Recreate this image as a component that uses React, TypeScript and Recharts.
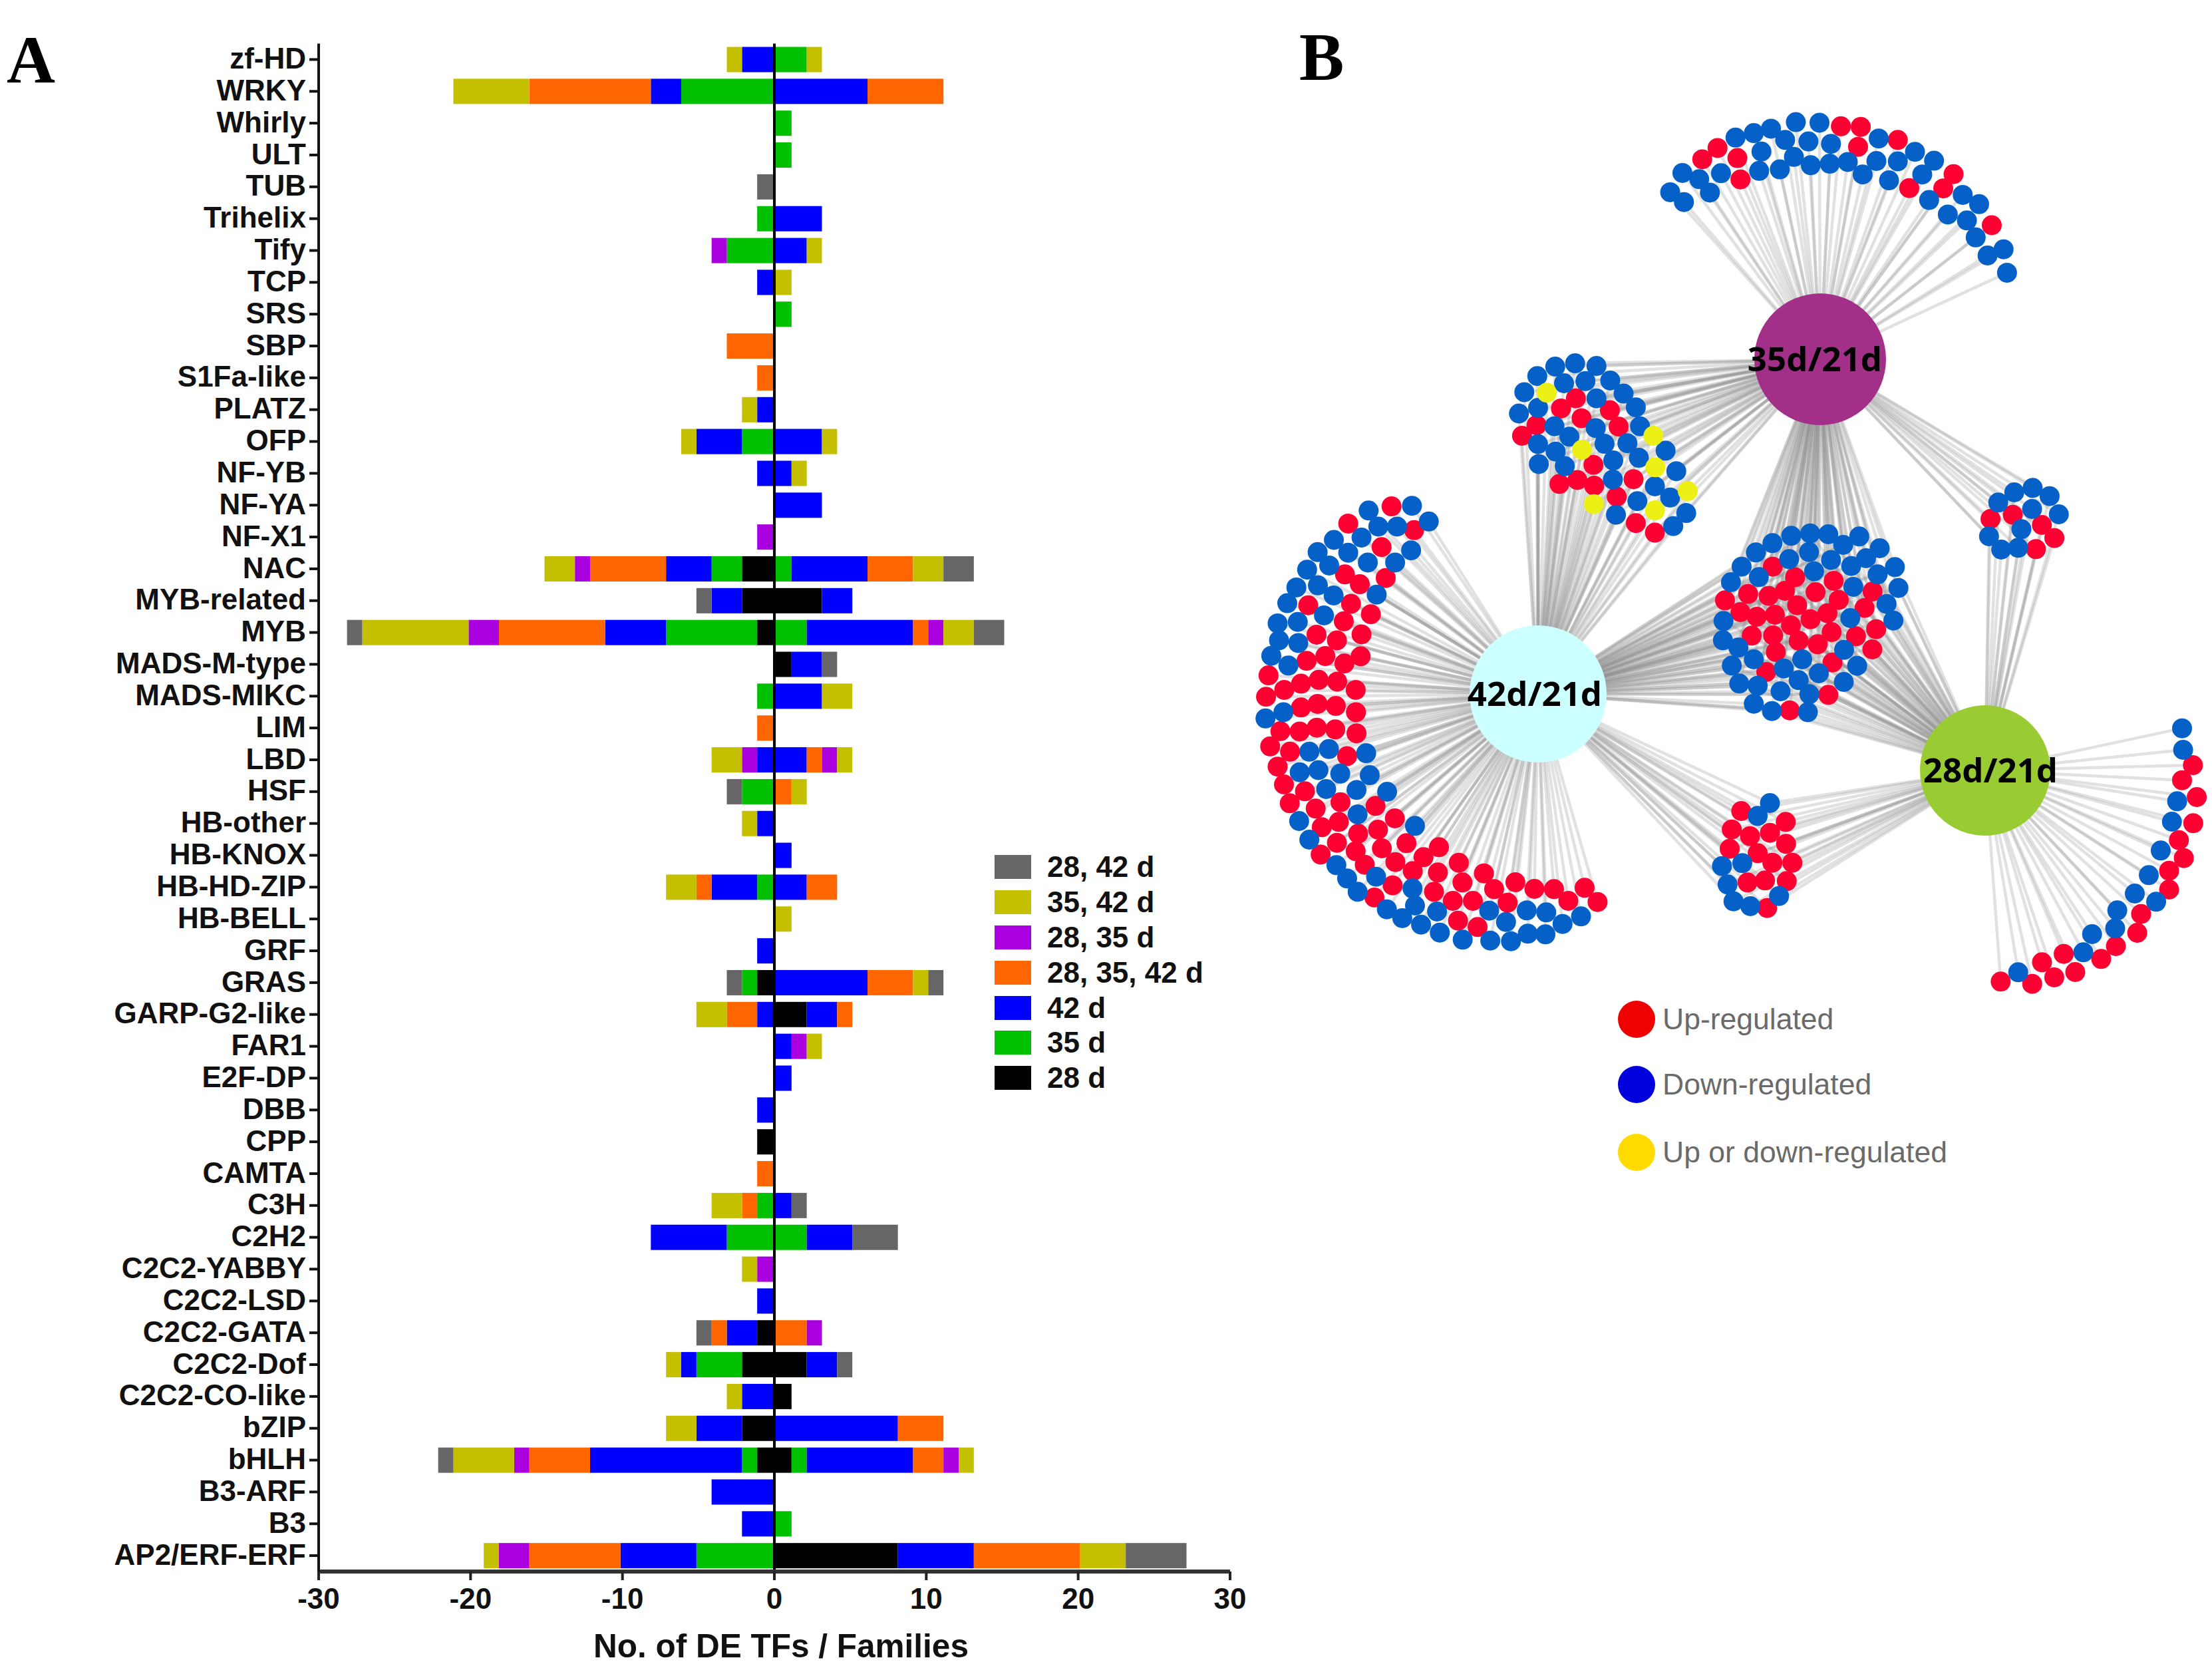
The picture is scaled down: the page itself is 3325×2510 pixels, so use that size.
import {
  BarChart,
  Bar,
  XAxis,
  YAxis,
  ScatterChart,
  Scatter,
  ReferenceLine,
  Legend,
} from "recharts";

const categories = [
  "zf-HD", "WRKY", "Whirly", "ULT", "TUB", "Trihelix", "Tify", "TCP",
  "SRS", "SBP", "S1Fa-like", "PLATZ", "OFP", "NF-YB", "NF-YA", "NF-X1",
  "NAC", "MYB-related", "MYB", "MADS-M-type", "MADS-MIKC", "LIM", "LBD", "HSF",
  "HB-other", "HB-KNOX", "HB-HD-ZIP", "HB-BELL", "GRF", "GRAS", "GARP-G2-like", "FAR1",
  "E2F-DP", "DBB", "CPP", "CAMTA", "C3H", "C2H2", "C2C2-YABBY", "C2C2-LSD",
  "C2C2-GATA", "C2C2-Dof", "C2C2-CO-like", "bZIP", "bHLH", "B3-ARF", "B3", "AP2/ERF-ERF",
];

// counts left of zero (stored as magnitudes)
const left28 = [
  0, 0, 0, 0, 0, 0, 0, 0,
  0, 0, 0, 0, 0, 0, 0, 0,
  2, 2, 1, 0, 0, 0, 0, 0,
  0, 0, 0, 0, 0, 1, 0, 0,
  0, 0, 1, 0, 0, 0, 0, 0,
  1, 2, 0, 2, 1, 0, 0, 0,
];
const left35 = [
  0, 6, 0, 0, 0, 1, 3, 0,
  0, 0, 0, 0, 2, 0, 0, 0,
  2, 0, 6, 0, 1, 0, 0, 2,
  0, 0, 1, 0, 0, 1, 0, 0,
  0, 0, 0, 0, 1, 3, 0, 0,
  0, 3, 0, 0, 1, 0, 0, 5,
];
const left42 = [
  2, 2, 0, 0, 0, 0, 0, 1,
  0, 0, 0, 1, 3, 1, 0, 0,
  3, 2, 4, 0, 0, 0, 1, 0,
  1, 0, 3, 0, 1, 0, 1, 0,
  0, 1, 0, 0, 0, 5, 0, 1,
  2, 1, 2, 3, 10, 4, 2, 5,
];
const left283542 = [
  0, 8, 0, 0, 0, 0, 0, 0,
  0, 3, 1, 0, 0, 0, 0, 0,
  5, 0, 7, 0, 0, 1, 0, 0,
  0, 0, 1, 0, 0, 0, 2, 0,
  0, 0, 0, 1, 1, 0, 0, 0,
  1, 0, 0, 0, 4, 0, 0, 6,
];
const left2835 = [
  0, 0, 0, 0, 0, 0, 1, 0,
  0, 0, 0, 0, 0, 0, 0, 1,
  1, 0, 2, 0, 0, 0, 1, 0,
  0, 0, 0, 0, 0, 0, 0, 0,
  0, 0, 0, 0, 0, 0, 1, 0,
  0, 0, 0, 0, 1, 0, 0, 2,
];
const left3542 = [
  1, 5, 0, 0, 0, 0, 0, 0,
  0, 0, 0, 1, 1, 0, 0, 0,
  2, 0, 7, 0, 0, 0, 2, 0,
  1, 0, 2, 0, 0, 0, 2, 0,
  0, 0, 0, 0, 2, 0, 1, 0,
  0, 1, 1, 2, 4, 0, 0, 1,
];
const left2842 = [
  0, 0, 0, 0, 1, 0, 0, 0,
  0, 0, 0, 0, 0, 0, 0, 0,
  0, 1, 1, 0, 0, 0, 0, 1,
  0, 0, 0, 0, 0, 1, 0, 0,
  0, 0, 0, 0, 0, 0, 0, 0,
  1, 0, 0, 0, 1, 0, 0, 0,
];

// counts right of zero
const right28 = [
  0, 0, 0, 0, 0, 0, 0, 0,
  0, 0, 0, 0, 0, 0, 0, 0,
  0, 3, 0, 1, 0, 0, 0, 0,
  0, 0, 0, 0, 0, 0, 2, 0,
  0, 0, 0, 0, 0, 0, 0, 0,
  0, 2, 1, 0, 1, 0, 0, 8,
];
const right35 = [
  2, 0, 1, 1, 0, 0, 0, 0,
  1, 0, 0, 0, 0, 0, 0, 0,
  1, 0, 2, 0, 0, 0, 0, 0,
  0, 0, 0, 0, 0, 0, 0, 0,
  0, 0, 0, 0, 0, 2, 0, 0,
  0, 0, 0, 0, 1, 0, 1, 0,
];
const right42 = [
  0, 6, 0, 0, 0, 3, 2, 0,
  0, 0, 0, 0, 3, 1, 3, 0,
  5, 2, 7, 2, 3, 0, 2, 0,
  0, 1, 2, 0, 0, 6, 2, 1,
  1, 0, 0, 0, 1, 3, 0, 0,
  0, 2, 0, 8, 7, 0, 0, 5,
];
const right283542 = [
  0, 5, 0, 0, 0, 0, 0, 0,
  0, 0, 0, 0, 0, 0, 0, 0,
  3, 0, 1, 0, 0, 0, 1, 1,
  0, 0, 2, 0, 0, 3, 1, 0,
  0, 0, 0, 0, 0, 0, 0, 0,
  2, 0, 0, 3, 2, 0, 0, 7,
];
const right2835 = [
  0, 0, 0, 0, 0, 0, 0, 0,
  0, 0, 0, 0, 0, 0, 0, 0,
  0, 0, 1, 0, 0, 0, 1, 0,
  0, 0, 0, 0, 0, 0, 0, 1,
  0, 0, 0, 0, 0, 0, 0, 0,
  1, 0, 0, 0, 1, 0, 0, 0,
];
const right3542 = [
  1, 0, 0, 0, 0, 0, 1, 1,
  0, 0, 0, 0, 1, 1, 0, 0,
  2, 0, 2, 0, 2, 0, 1, 1,
  0, 0, 0, 1, 0, 1, 0, 1,
  0, 0, 0, 0, 0, 0, 0, 0,
  0, 0, 0, 0, 1, 0, 0, 3,
];
const right2842 = [
  0, 0, 0, 0, 0, 0, 0, 0,
  0, 0, 0, 0, 0, 0, 0, 0,
  2, 0, 2, 1, 0, 0, 0, 0,
  0, 0, 0, 0, 0, 1, 0, 0,
  0, 0, 0, 0, 1, 3, 0, 0,
  0, 1, 0, 0, 0, 0, 0, 4,
];

const xTicks = [-30, -20, -10, 0, 10, 20, 30];

const series = [
  { key: "d28", label: "28 d", color: "#000000", left: left28, right: right28 },
  { key: "d35", label: "35 d", color: "#00c000", left: left35, right: right35 },
  { key: "d42", label: "42 d", color: "#0000ff", left: left42, right: right42 },
  { key: "d283542", label: "28, 35, 42 d", color: "#ff6600", left: left283542, right: right283542 },
  { key: "d2835", label: "28, 35 d", color: "#aa00e0", left: left2835, right: right2835 },
  { key: "d3542", label: "35, 42 d", color: "#c4c000", left: left3542, right: right3542 },
  { key: "d2842", label: "28, 42 d", color: "#666666", left: left2842, right: right2842 },
];

const barData = categories.map((name, i) => {
  const row: Record<string, number | string> = { name };
  series.forEach((s) => {
    row[s.key + "L"] = -s.left[i];
    row[s.key + "R"] = s.right[i];
  });
  return row;
});

const D = "down";
const U = "up";
const M = "either";
type Reading = [string, number, number];
type Node = { x: number; y: number; kind: string };

const fromCrop = (ox: number, oy: number, kx: number, ky: number, rows: Reading[]): Node[] =>
  rows.map(([kind, x, y]) => ({ kind, x: ox + x / kx, y: oy + y / ky }));

const hub35 = { x: 2736, y: 540, name: "35d/21d", color: "#a23088", r: 99, dx: -8 };
const hub42 = { x: 2312, y: 1043, name: "42d/21d", color: "#ccffff", r: 103, dx: -5 };
const hub28 = { x: 2984, y: 1158, name: "28d/21d", color: "#99cc33", r: 98, dx: 8 };
const hubs = [hub35, hub42, hub28];

const topArc = fromCrop(2200, 130, 1.742, 2.24, [
  [D, 870, 120], [D, 932, 122], [U, 988, 134], [U, 1040, 136], [D, 1087, 175], [U, 1137, 180],
  [D, 1182, 220], [D, 1232, 250], [U, 1283, 295], [D, 805, 142], [D, 760, 157], [D, 712, 172],
  [U, 665, 207], [U, 625, 245], [D, 573, 291], [D, 541, 356], [D, 577, 389], [D, 617, 312],
  [D, 645, 357], [D, 674, 292], [U, 717, 241], [U, 725, 313], [D, 780, 219], [D, 842, 180],
  [D, 903, 185], [D, 962, 193], [U, 1033, 203], [D, 865, 237], [D, 909, 265], [D, 959, 260],
  [D, 1006, 254], [D, 1081, 251], [D, 1137, 252], [D, 774, 284], [D, 828, 279], [D, 1045, 296],
  [D, 1114, 316], [D, 1201, 296], [U, 1167, 342], [U, 1256, 343], [D, 1219, 382], [D, 1307, 365],
  [D, 1350, 396], [D, 1268, 431], [D, 1318, 451], [U, 1383, 467], [D, 1341, 508], [D, 1372, 569],
  [D, 1414, 548], [D, 1423, 627],
]);

const upperLeft = fromCrop(2200, 130, 1.742, 2.24, [
  [D, 348, 941], [D, 292, 932], [D, 240, 943], [D, 193, 975], [D, 159, 1029], [M, 218, 1031],
  [D, 263, 999], [D, 319, 992], [D, 384, 990], [D, 419, 1034], [D, 348, 1050], [U, 294, 1050],
  [U, 255, 1084], [D, 195, 1082], [D, 145, 1101], [U, 383, 1090], [D, 451, 1080], [U, 309, 1117],
  [U, 191, 1140], [D, 238, 1144], [U, 153, 1176], [D, 346, 1150], [U, 406, 1145], [D, 462, 1144],
  [M, 497, 1176], [D, 277, 1179], [D, 195, 1204], [D, 241, 1229], [D, 369, 1203], [D, 429, 1201],
  [M, 310, 1223], [D, 529, 1226], [D, 459, 1250], [D, 197, 1271], [D, 265, 1278], [U, 340, 1274],
  [D, 392, 1259], [M, 502, 1282], [D, 557, 1295], [U, 251, 1338], [U, 298, 1325], [U, 342, 1344],
  [D, 391, 1323], [U, 445, 1322], [D, 501, 1346], [M, 587, 1362], [U, 401, 1381], [D, 455, 1396],
  [D, 541, 1384], [M, 341, 1406], [M, 501, 1427], [D, 399, 1442], [D, 583, 1436], [U, 451, 1470],
  [D, 549, 1480], [U, 501, 1502],
]);

const upperRight = fromCrop(2480, 700, 2.24, 3, [
  [D, 1289, 100], [D, 1227, 120], [D, 1346, 137], [D, 1173, 166], [D, 1287, 195], [U, 1222, 221],
  [D, 1377, 219], [U, 1147, 240], [U, 1320, 267], [D, 1251, 286], [D, 1142, 318], [U, 1362, 326],
  [D, 1183, 378], [D, 1240, 370], [U, 1300, 376],
]);

const center = fromCrop(2480, 700, 2.24, 3, [
  [D, 540, 305], [D, 476, 316], [D, 601, 309], [D, 705, 319], [D, 413, 349], [D, 651, 357],
  [D, 536, 389], [D, 774, 372], [D, 357, 391], [D, 469, 421], [D, 610, 425], [D, 728, 417],
  [D, 309, 455], [U, 414, 455], [D, 678, 452], [D, 825, 457], [D, 553, 476], [U, 489, 503],
  [D, 367, 502], [D, 767, 490], [D, 273, 525], [U, 619, 519], [D, 685, 546], [D, 837, 551],
  [U, 331, 578], [U, 400, 587], [U, 455, 564], [U, 558, 570], [U, 750, 567], [U, 253, 607],
  [U, 636, 605], [U, 496, 629], [U, 723, 641], [D, 797, 623], [U, 305, 660], [U, 360, 681],
  [U, 421, 672], [U, 598, 665], [D, 248, 700], [U, 541, 692], [D, 675, 687], [D, 820, 698],
  [U, 475, 720], [U, 612, 750], [U, 762, 737], [U, 343, 766], [U, 415, 765], [U, 694, 769],
  [D, 246, 787], [U, 501, 789], [U, 565, 805], [D, 298, 820], [U, 424, 840], [D, 654, 830],
  [U, 749, 828], [D, 350, 873], [D, 513, 873], [U, 615, 887], [D, 276, 901], [D, 698, 902],
  [D, 451, 914], [U, 392, 930], [D, 569, 936], [D, 301, 982], [D, 501, 967], [D, 653, 975],
  [D, 363, 992], [D, 440, 1017], [D, 537, 1030], [U, 601, 1033], [D, 350, 1073], [D, 411, 1106],
  [U, 471, 1103], [D, 532, 1111],
]);

const bigArcUpper = fromCrop(1850, 720, 2.412, 2.24, [
  [D, 500, 106], [U, 583, 92], [D, 657, 90], [D, 718, 143], [U, 426, 150], [D, 535, 160],
  [D, 603, 160], [U, 665, 172], [D, 374, 205], [D, 474, 197], [U, 547, 229], [D, 315, 246],
  [D, 426, 248], [D, 654, 240], [D, 277, 305], [D, 357, 291], [D, 497, 281], [D, 596, 281],
  [U, 414, 321], [U, 562, 333], [U, 468, 354], [D, 238, 365], [D, 316, 358], [D, 373, 392],
  [D, 529, 389], [D, 205, 418], [U, 281, 425], [U, 436, 420], [D, 338, 459], [U, 508, 455],
  [D, 170, 486], [D, 243, 481], [U, 410, 479], [U, 474, 523], [D, 175, 543], [D, 245, 552],
  [U, 311, 524], [U, 385, 543], [D, 147, 595], [D, 209, 628], [U, 275, 612], [U, 343, 596],
  [U, 412, 621], [U, 471, 597], [U, 137, 661], [U, 255, 689], [U, 319, 676], [U, 386, 682],
  [U, 194, 710], [U, 128, 733], [U, 453, 710], [U, 255, 769], [U, 315, 757], [U, 381, 764],
  [D, 191, 785], [D, 126, 806], [U, 454, 785], [U, 180, 849], [U, 250, 850], [U, 312, 837],
  [U, 379, 843], [U, 456, 856], [U, 143, 900], [U, 215, 918], [D, 285, 918], [D, 356, 909],
  [U, 422, 933], [D, 491, 923], [U, 170, 968], [D, 250, 987], [D, 318, 980], [D, 397, 992],
  [D, 504, 997],
]);

const bigArcLower = fromCrop(1850, 1000, 2.412, 3, [
  [U, 193, 537], [U, 269, 568], [D, 346, 558], [D, 456, 562], [D, 567, 570], [U, 214, 622],
  [U, 308, 646], [U, 398, 617], [U, 525, 634], [D, 248, 702], [D, 460, 672], [U, 595, 690],
  [U, 330, 730], [U, 392, 706], [D, 668, 724], [U, 462, 759], [U, 534, 741], [D, 285, 786],
  [U, 385, 800], [U, 637, 802], [U, 755, 820], [U, 326, 853], [U, 453, 838], [U, 548, 825],
  [U, 699, 865], [U, 597, 887], [U, 827, 890], [D, 383, 901], [U, 486, 899], [U, 660, 928],
  [U, 751, 934], [U, 918, 938], [D, 422, 961], [D, 527, 953], [U, 840, 979], [U, 587, 992],
  [D, 659, 1006], [U, 1032, 978], [U, 955, 1009], [U, 1101, 1008], [U, 1172, 1009], [U, 1283, 1003],
  [D, 460, 1021], [U, 737, 1021], [U, 521, 1047], [U, 805, 1062], [U, 878, 1062], [U, 1004, 1070],
  [U, 1224, 1062], [U, 1330, 1067], [D, 566, 1100], [D, 668, 1083], [D, 748, 1110], [D, 937, 1106],
  [D, 1073, 1105], [D, 1144, 1114], [D, 622, 1140], [D, 690, 1169], [U, 824, 1151], [D, 998, 1157],
  [D, 1203, 1166], [D, 1270, 1132], [U, 895, 1180], [D, 758, 1205], [D, 1077, 1210], [D, 1141, 1213],
  [D, 841, 1237], [D, 941, 1241], [D, 1016, 1244],
]);

const lowerSmall = fromCrop(2500, 1050, 1.9, 3, [
  [D, 305, 471], [U, 223, 507], [D, 270, 529], [U, 350, 556], [U, 196, 590], [U, 305, 605],
  [U, 248, 620], [U, 351, 655], [U, 190, 677], [U, 270, 697], [D, 168, 755], [D, 226, 742],
  [U, 312, 740], [U, 369, 740], [D, 184, 838], [U, 241, 829], [U, 291, 820], [U, 353, 823],
  [D, 331, 890], [D, 201, 914], [D, 249, 936], [U, 297, 944],
]);

const rightArc = fromCrop(2500, 1050, 1.9, 3, [
  [D, 1482, 134], [D, 1485, 231], [U, 1513, 300], [U, 1482, 368], [D, 1468, 463], [U, 1524, 444],
  [D, 1453, 555], [U, 1514, 562], [U, 1473, 638], [D, 1421, 685], [U, 1487, 719], [D, 1387, 796],
  [U, 1445, 776], [U, 1445, 861], [D, 1347, 879], [D, 1408, 916], [D, 1297, 955], [U, 1365, 971],
  [D, 1291, 1036], [U, 1354, 1056], [D, 1225, 1062], [U, 1293, 1116], [D, 1200, 1144], [U, 1251, 1174],
  [U, 1144, 1151], [U, 1082, 1189], [U, 1177, 1233], [U, 1117, 1257], [D, 1014, 1234], [U, 1054, 1286],
  [U, 964, 1276],
]);

const groups = [
  { nodes: topArc, hubs: [hub35] },
  { nodes: upperLeft, hubs: [hub35, hub42] },
  { nodes: upperRight, hubs: [hub35, hub28] },
  { nodes: center, hubs: [hub35, hub42, hub28] },
  { nodes: [...bigArcUpper, ...bigArcLower], hubs: [hub42] },
  { nodes: lowerSmall, hubs: [hub42, hub28] },
  { nodes: rightArc, hubs: [hub28] },
];

const allNodes = groups.flatMap((g) => g.nodes);
const edges = groups.flatMap((g) =>
  g.nodes.flatMap((n) => g.hubs.map((h) => [{ x: h.x, y: h.y }, { x: n.x, y: n.y }]))
);

const nodeKinds = [
  { kind: U, color: "#ff0033" },
  { kind: D, color: "#0561c8" },
  { kind: M, color: "#ecf014" },
];

const networkLegend = [
  { label: "Up-regulated", color: "#f00000" },
  { label: "Down-regulated", color: "#0000dd" },
  { label: "Up or down-regulated", color: "#ffdb00" },
];
const networkLegendRows = [96, 100, 104];

const SANS = '"Liberation Sans", Arial, sans-serif';

// the original bars start a little off the zero line on both sides
const ZERO_X = 1164;
const BAR_GAP = 3;

function SegmentLeft(p: any) {
  const x0 = Math.min(p.x, p.x + p.width);
  const x1 = Math.max(p.x, p.x + p.width);
  if (x1 - x0 < 0.5) return null;
  const inner = Math.abs(x1 - ZERO_X) < 1 ? x1 : x1 - BAR_GAP;
  return <rect x={x0 - BAR_GAP} y={p.y} width={inner - x0 + BAR_GAP} height={p.height} fill={p.fill} />;
}

function SegmentRight(p: any) {
  const x0 = Math.min(p.x, p.x + p.width);
  const x1 = Math.max(p.x, p.x + p.width);
  if (x1 - x0 < 0.5) return null;
  const inner = Math.abs(x0 - ZERO_X) < 1 ? x0 : x0 + BAR_GAP;
  return <rect x={inner} y={p.y} width={x1 + BAR_GAP - inner} height={p.height} fill={p.fill} />;
}

function BarLegend() {
  return (
    <div style={{ fontFamily: SANS, fontWeight: 700, fontSize: 44, color: "#111" }}>
      {[...series].reverse().map((s) => (
        <div key={s.key} style={{ display: "flex", alignItems: "center", height: 52.8 }}>
          <span style={{ width: 55, height: 36, background: s.color, marginRight: 24 }} />
          <span style={{ whiteSpace: "pre" }}>{s.label}</span>
        </div>
      ))}
    </div>
  );
}

function NetworkLegend() {
  return (
    <div style={{ fontFamily: SANS, fontSize: 44.5, color: "#6a6a6a" }}>
      {networkLegend.map((l, i) => (
        <div key={l.label} style={{ display: "flex", alignItems: "center", height: networkLegendRows[i] }}>
          <span style={{ width: 56, height: 56, borderRadius: "50%", background: l.color, marginRight: 11 }} />
          <span style={{ whiteSpace: "pre" }}>{l.label}</span>
        </div>
      ))}
    </div>
  );
}

function PanelA() {
  const tickFont = { fontFamily: SANS, fontWeight: 700, fill: "#111" };
  return (
    <BarChart
      width={1880}
      height={2510}
      data={barData}
      layout="vertical"
      stackOffset="sign"
      barSize={38}
      margin={{ top: 65.5, right: 31, bottom: 0, left: 0 }}
    >
      <XAxis
        type="number"
        domain={[-30, 30]}
        ticks={xTicks}
        height={148}
        interval={0}
        tickSize={13}
        tickMargin={12}
        tick={{ ...tickFont, fontSize: 44 }}
        axisLine={{ stroke: "#333", strokeWidth: 6 }}
        tickLine={{ stroke: "#222", strokeWidth: 4 }}
        label={{
          value: "No. of DE TFs / Families",
          position: "insideBottom",
          offset: 19,
          dx: 10,
          style: { fontFamily: SANS, fontWeight: 700, fontSize: 49.5, fill: "#111" },
        }}
      />
      <YAxis
        type="category"
        dataKey="name"
        width={479}
        interval={0}
        tickSize={14}
        tickMargin={5}
        tick={{ ...tickFont, fontSize: 44, dy: -2 }}
        axisLine={{ stroke: "#111", strokeWidth: 4 }}
        tickLine={{ stroke: "#111", strokeWidth: 4 }}
      />
      {series.map((s) => (
        <Bar key={s.key + "L"} dataKey={s.key + "L"} stackId="a" fill={s.color} isAnimationActive={false} legendType="none" shape={SegmentLeft} />
      ))}
      {series.map((s) => (
        <Bar key={s.key + "R"} dataKey={s.key + "R"} stackId="a" fill={s.color} isAnimationActive={false} legendType="none" shape={SegmentRight} />
      ))}
      <ReferenceLine x={0} stroke="#000" strokeWidth={4} />
      <Legend
        layout="vertical"
        align="center"
        verticalAlign="middle"
        content={<BarLegend />}
        wrapperStyle={{ position: "absolute", left: 1495, top: 1277, width: 380, height: 370, bottom: "auto", right: "auto" }}
      />
    </BarChart>
  );
}

function HubNode(p: any) {
  return (
    <g>
      <circle cx={p.cx} cy={p.cy} r={p.payload.r} fill={p.payload.color} />
      <text
        x={p.cx + p.payload.dx}
        y={p.cy}
        dy="0.36em"
        textAnchor="middle"
        style={{ fontFamily: '"Open Sans", sans-serif', fontWeight: 700, fontSize: 51, fill: "#000" }}
      >
        {p.payload.name}
      </text>
    </g>
  );
}

function PanelB() {
  return (
    <ScatterChart width={1445} height={2510} margin={{ top: 0, right: 0, bottom: 0, left: 0 }}>
      <XAxis type="number" dataKey="x" domain={[1880, 3325]} hide />
      <YAxis type="number" dataKey="y" domain={[0, 2510]} reversed hide />
      {edges.map((seg, i) => (
        <ReferenceLine key={i} segment={seg} stroke="#8c8c8c" strokeOpacity={0.26} strokeWidth={4.5} ifOverflow="visible" />
      ))}
      {nodeKinds.map((k) => (
        <Scatter
          key={k.kind}
          data={allNodes.filter((n) => n.kind === k.kind)}
          isAnimationActive={false}
          legendType="none"
          shape={(p: any) => <circle cx={p.cx} cy={p.cy} r={15} fill={k.color} />}
        />
      ))}
      <Scatter data={hubs} isAnimationActive={false} legendType="none" shape={HubNode} />
      <Legend
        layout="vertical"
        align="center"
        verticalAlign="middle"
        content={<NetworkLegend />}
        wrapperStyle={{ position: "absolute", left: 552, top: 1484, width: 560, height: 300, bottom: "auto", right: "auto" }}
      />
    </ScatterChart>
  );
}

const panelLetter = {
  position: "absolute" as const,
  fontFamily: '"Liberation Serif", serif',
  fontWeight: 700,
  fontSize: 101,
  lineHeight: "106px",
  color: "#000",
};

export default function App() {
  return (
    <div style={{ position: "absolute", left: 0, top: 0, width: 3325, height: 2510, background: "#fff", overflow: "hidden" }}>
      <div style={{ position: "absolute", left: 0, top: 0 }}>
        <PanelA />
      </div>
      <div style={{ position: "absolute", left: 1880, top: 0 }}>
        <PanelB />
      </div>
      <span style={{ ...panelLetter, left: 10, top: 37 }}>A</span>
      <span style={{ ...panelLetter, left: 1953, top: 33 }}>B</span>
    </div>
  );
}
